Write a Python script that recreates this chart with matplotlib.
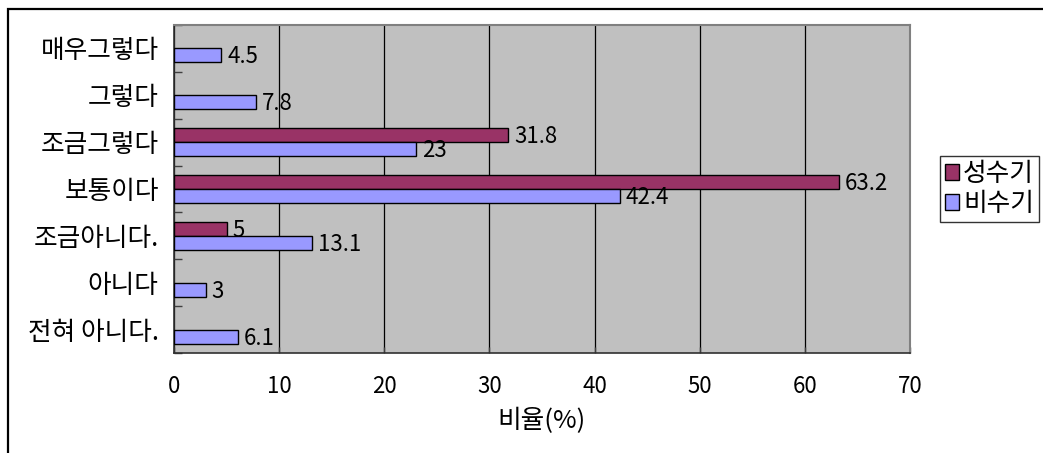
import matplotlib
matplotlib.use("Agg")
import matplotlib.pyplot as plt
import numpy as np
from matplotlib.patches import Rectangle

plt.rcParams['font.family'] = ['Noto Sans CJK KR', 'DejaVu Sans']

categories = ['매우그렇다', '그렇다', '조금그렇다', '보통이다', '조금아니다.', '아니다', '전혀 아니다.']
peak = [None, None, 31.8, 63.2, 5, None, None]       # 성수기
offpeak = [4.5, 7.8, 23, 42.4, 13.1, 3, 6.1]          # 비수기
series_names = ['성수기', '비수기']
colors = ['#993366', '#9999FF']
xticks = [0, 10, 20, 30, 40, 50, 60, 70]

W, H = 1043, 453
FS = 16       # digits
FK = 18.5     # Korean text
fig = plt.figure(figsize=(W / 100, H / 100), dpi=100)
fig.patch.set_facecolor('white')

# outer chart frame
fig.add_artist(Rectangle((8 / W, -0.1), 1.2, (H - 9.5) / H + 0.1, transform=fig.transFigure,
                         fill=False, edgecolor='black', linewidth=1.6, clip_on=False))

ax = fig.add_axes([174 / W, 1 - 353 / H, (910 - 174) / W, (353 - 25) / H])
ax.set_facecolor('#C0C0C0')

n = len(categories)
y = np.arange(n)
h = 0.3
for i in range(n):
    if peak[i] is not None:
        ax.barh(y[i] - h / 2, peak[i], height=h, color=colors[0], edgecolor='black', linewidth=1, zorder=3)
        ax.text(peak[i] + 0.55, y[i] - h / 2 + 0.03, f"{peak[i]:g}", va='center', ha='left', fontsize=FS, zorder=4)
    ax.barh(y[i] + h / 2, offpeak[i], height=h, color=colors[1], edgecolor='black', linewidth=1, zorder=3)
    ax.text(offpeak[i] + 0.55, y[i] + h / 2 + 0.03, f"{offpeak[i]:g}", va='center', ha='left', fontsize=FS, zorder=4)

ax.set_xlim(0, 70)
ax.set_ylim(n - 0.5, -0.5)
ax.set_xticks(xticks)
ax.set_xticklabels([str(t) for t in xticks], fontsize=FS)
ax.xaxis.grid(True, color='black', linewidth=0.9, zorder=1)
ax.set_axisbelow(True)
ax.set_yticks(y)
ax.set_yticklabels(categories, fontsize=FK)
ax.set_yticks(np.arange(-0.5, n, 1), minor=True)
ax.tick_params(axis='y', which='major', length=0, pad=11)
ax.tick_params(axis='y', which='minor', direction='in', length=6, width=1, color='#404040')
ax.tick_params(axis='x', which='major', direction='in', length=4, width=1, color='#404040', pad=16)
ax.set_xlabel('비율(%)', fontsize=FK, labelpad=7)

for s in ['left', 'bottom']:
    ax.spines[s].set_color('#303030')
    ax.spines[s].set_linewidth(1.2)
for s in ['top', 'right']:
    ax.spines[s].set_color('#808080')
    ax.spines[s].set_linewidth(1.5)

handles = [Rectangle((0, 0), 1, 1, facecolor=c, edgecolor='black', linewidth=1) for c in colors]
leg = fig.legend(handles, series_names, loc='upper left', bbox_to_anchor=(940 / W, 1 - 156 / H),
                 prop={'size': FK}, frameon=True, fancybox=False, handlelength=0.55, handleheight=0.55,
                 handletextpad=0.15, labelspacing=0.15, borderpad=0.2, borderaxespad=0)
leg.get_frame().set_edgecolor('black')
leg.get_frame().set_linewidth(1)

fig.savefig('out.png', dpi=100)
